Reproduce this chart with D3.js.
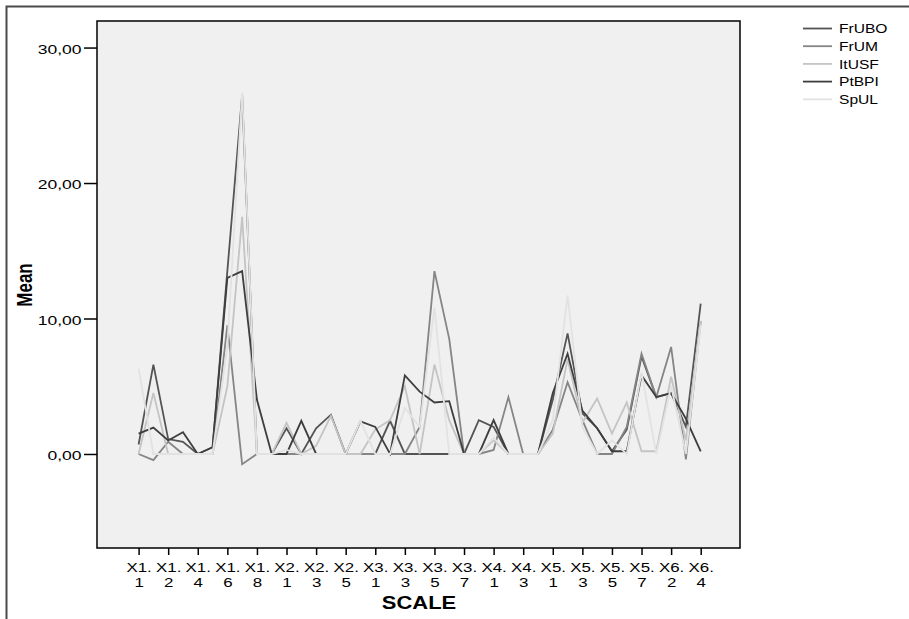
<!DOCTYPE html>
<html lang="en">
<head>
  <meta charset="UTF-8">
  <title>Mean by SCALE</title>
  <script src="https://d3js.org/d3.v7.min.js"></script>
  <style>
    body { margin: 0; background: #fff; }
    svg { display: block; font-family: "Liberation Sans", Arial, sans-serif; }
  </style>
</head>
<body>
  <div id="chart"></div>
  <script>
    // categories of the x axis (items of each scale)
    const categories = [
      "X1.1", "X1.10", "X1.2", "X1.3", "X1.4", "X1.5", "X1.6", "X1.7", "X1.8", "X1.9",
      "X2.1", "X2.2", "X2.3", "X2.4", "X2.5", "X2.6",
      "X3.1", "X3.2", "X3.3", "X3.4", "X3.5", "X3.6", "X3.7", "X3.8",
      "X4.1", "X4.2", "X4.3", "X4.4",
      "X5.1", "X5.2", "X5.3", "X5.4", "X5.5", "X5.6", "X5.7",
      "X6.1", "X6.2", "X6.3", "X6.4"
    ];
    // only every other category gets a label
    const tickCats = categories.filter((d, i) => i % 2 === 0);
    const yTicks = [0, 10, 20, 30];

    const seriesNames = ["FrUBO", "FrUM", "ItUSF", "PtBPI", "SpUL"];

    // mean values per category
    const frUBO = [0.7, 6.6, 1.1, 0.9, 0.0, 0.5, 13.5, 26.5, 0.0, 0.0,
      1.9, 0.0, 1.9, 2.9, 0.0, 0.0,
      0.0, 2.45, 0.0, 0.0, 0.0, 0.0, 0.0, 2.5,
      2.0, 0.0, 0.0, 0.0,
      4.0, 8.9, 3.0, 1.9, 0.2, 1.8, 7.2,
      4.2, 4.5, 2.0, 11.1];
    const frUM = [0.0, -0.45, 0.9, 0.0, 0.0, 0.0, 9.5, -0.75, 0.0, 0.0,
      0.0, 0.0, 0.0, 0.0, 0.0, 0.0,
      0.0, 0.0, 0.0, 2.0, 13.5, 8.5, 0.0, 0.0,
      0.3, 4.2, 0.0, 0.0,
      1.8, 5.3, 2.5, 0.0, 0.0, 2.0, 7.4,
      4.2, 7.9, -0.4, 9.8];
    const itUSF = [0.0, 4.5, 0.0, 0.0, 0.0, 0.0, 5.0, 17.5, 0.0, 0.0,
      2.3, 0.0, 0.6, 2.8, 0.0, 0.0,
      1.8, 2.5, 5.0, 0.0, 6.6, 2.5, 0.0, 0.0,
      1.0, 0.0, 0.0, 0.0,
      1.5, 7.0, 2.3, 4.1, 1.5, 3.8, 0.2,
      0.2, 5.7, 1.0, 9.8];
    const ptBPI = [1.5, 1.95, 1.0, 1.6, 0.0, 0.5, 13.0, 13.5, 4.0, 0.0,
      0.0, 2.45, 0.0, 0.0, 0.0, 2.4,
      2.0, 0.0, 5.8, 4.6, 3.8, 3.9, 0.0, 0.0,
      2.5, 0.0, 0.0, 0.0,
      4.5, 7.4, 3.2, 1.9, 0.2, 0.2, 5.8,
      4.2, 4.5, 2.6, 0.2];
    const spUL = [6.3, 0.0, 0.0, 0.0, 0.0, 0.0, 8.0, 26.7, 0.0, 0.0,
      0.3, 0.0, 0.0, 0.0, 0.0, 2.45,
      0.0, 0.0, 3.4, 2.0, 10.8, 0.0, 0.0, 0.0,
      1.2, 0.0, 0.0, 0.0,
      2.5, 11.7, 2.0, 0.0, 1.0, 0.0, 6.0,
      0.0, 5.0, 0.0, 9.5];

    const seriesValues = [frUBO, frUM, itUSF, ptBPI, spUL];
    const seriesColors = ["#545454", "#858585", "#c4c4c4", "#3e3e3e", "#e2e2e2"];

    const width = 909, height = 619;
    const plot = { left: 97, right: 740, top: 21, bottom: 548 };
    const sx = 1.3; // the original picture is stretched sideways

    const x = d3.scalePoint().domain(categories).range([138.6, 700.7]);
    const y = d3.scaleLinear().domain([-6.94, 31.96]).range([plot.bottom, plot.top]);

    const svg = d3.select("#chart").append("svg")
      .attr("width", width)
      .attr("height", height);

    // outer chart border (top and left edges visible)
    svg.append("path")
      .attr("d", `M6.5,619 V6.5 H909`)
      .attr("fill", "none")
      .attr("stroke", "#4a4a4a")
      .attr("stroke-width", 2);

    // plot area
    svg.append("rect")
      .attr("x", plot.left)
      .attr("y", plot.top)
      .attr("width", plot.right - plot.left)
      .attr("height", plot.bottom - plot.top)
      .attr("fill", "#f0f0f0");

    // lines
    const line = d3.line()
      .x((d, i) => x(categories[i]))
      .y(d => y(d));

    svg.append("g")
      .selectAll("path")
      .data(seriesValues)
      .join("path")
      .attr("fill", "none")
      .attr("stroke", (d, i) => seriesColors[i])
      .attr("stroke-width", 1.8)
      .attr("stroke-linejoin", "miter")
      .attr("d", line);

    svg.append("rect")
      .attr("x", plot.left)
      .attr("y", plot.top)
      .attr("width", plot.right - plot.left)
      .attr("height", plot.bottom - plot.top)
      .attr("fill", "none")
      .attr("stroke", "#000")
      .attr("stroke-width", 1.5);

    // y axis
    const yAxis = svg.append("g")
      .attr("transform", `translate(${plot.left},0)`)
      .call(d3.axisLeft(y)
        .tickValues(yTicks)
        .tickSize(13)
        .tickFormat(d => d3.format(".2f")(d).replace(".", ",")));
    yAxis.select(".domain").remove();
    yAxis.selectAll(".tick line").attr("stroke", "#000").attr("stroke-width", 1.5);
    yAxis.selectAll(".tick text")
      .attr("x", -15.5 / sx)
      .attr("dy", "0.42em")
      .attr("transform", `scale(${sx},1)`)
      .attr("fill", "#000")
      .style("font-size", "13.5px")
      .style("font-family", "Liberation Sans, Arial, sans-serif");

    // x axis
    const xAxis = svg.append("g")
      .attr("transform", `translate(0,${plot.bottom})`)
      .call(d3.axisBottom(x)
        .tickValues(tickCats)
        .tickSize(7)
        .tickFormat(""));
    xAxis.select(".domain").remove();
    xAxis.selectAll(".tick line").attr("stroke", "#000").attr("stroke-width", 1.5);
    const xt = xAxis.selectAll(".tick").append("text")
      .attr("transform", `scale(${sx},1)`)
      .attr("text-anchor", "middle")
      .attr("fill", "#000")
      .style("font-size", "13px");
    xt.append("tspan").attr("x", 0).attr("y", 24).text(d => d.split(".")[0] + ".");
    xt.append("tspan").attr("x", 0).attr("y", 39).text(d => d.split(".")[1]);

    // axis titles
    svg.append("text")
      .attr("transform", `translate(419,609) scale(1.22,1)`)
      .attr("text-anchor", "middle")
      .style("font-size", "18px")
      .style("font-weight", "bold")
      .text("SCALE");

    svg.append("text")
      .attr("transform", `translate(32,285) scale(${sx},1) rotate(-90)`)
      .attr("text-anchor", "middle")
      .style("font-size", "17px")
      .style("font-weight", "bold")
      .text("Mean");

    // legend
    const legend = svg.append("g")
      .selectAll("g")
      .data(seriesNames)
      .join("g")
      .attr("transform", (d, i) => `translate(803,${28.5 + i * 17.7})`);
    legend.append("line")
      .attr("x1", 0).attr("x2", 29)
      .attr("stroke", (d, i) => seriesColors[i])
      .attr("stroke-width", 1.8);
    legend.append("text")
      .attr("transform", `translate(36,0) scale(1.2,1)`)
      .attr("dy", "0.36em")
      .style("font-size", "13px")
      .text(d => d);
  </script>
</body>
</html>
